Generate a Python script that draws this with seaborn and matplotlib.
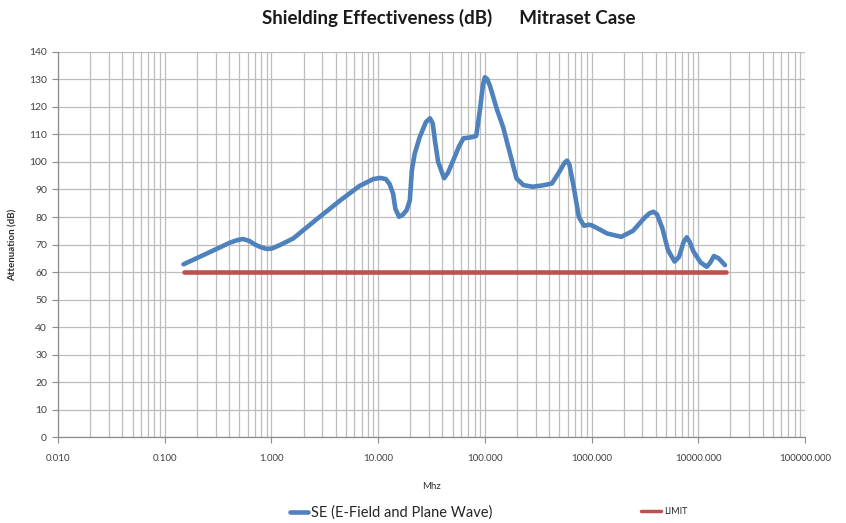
import numpy as np
import pandas as pd
import seaborn as sns
import matplotlib
matplotlib.use("Agg")
import matplotlib.pyplot as plt
from matplotlib.ticker import LogLocator, FuncFormatter, NullFormatter, MultipleLocator
from matplotlib.lines import Line2D

# ---- data ----
freq_mhz = [0.15, 0.25, 0.41, 0.48, 0.54, 0.62, 0.70, 0.80, 0.90, 1.0, 1.2, 1.6, 2.6, 4.4, 6.7, 9.0, 10.5,
            11.8, 12.8, 13.8, 14.5, 15.7, 17.0, 18.5, 19.8, 20.7, 22.0, 24.5, 28.0, 30.6, 32.5, 34, 36.5, 41.5,
            45.0, 50.7, 57.0, 63, 75, 83, 90, 96, 100, 105, 112, 130, 148, 175, 198, 230, 280, 350, 425,
            500, 560, 590, 620, 680, 760, 850, 940, 1000, 1150, 1400, 1900, 2450, 3100, 3500, 3800, 4100,
            4600, 5200, 6000, 6600, 7300, 7800, 8300, 9000, 10500, 12000, 13000, 14000, 15500, 17800]
se_db = [62.8, 66.8, 70.7, 71.6, 72.0, 71.3, 70.0, 69.0, 68.4, 68.5, 69.8, 72.2, 78.9, 86.0, 91.3, 93.8, 94.2,
         93.8, 92.0, 88.5, 83.0, 80.1, 80.8, 82.5, 86.0, 97.0, 103.0, 109.0, 114.5, 115.9, 114.0, 108.0, 100.0, 94.1,
         96.0, 100.7, 105.5, 108.6, 109.0, 109.5, 119.0, 128.0, 130.8, 130.2, 127.5, 119.0, 112.8, 102.0, 94.0, 91.6, 91.0, 91.5, 92.2,
         96.5, 99.8, 100.5, 99.0, 91.0, 80.0, 76.8, 77.2, 77.0, 75.8, 74.0, 72.8, 75.0, 79.5, 81.4, 81.9, 81.0,
         76.0, 68.0, 63.8, 65.5, 71.0, 72.6, 71.0, 67.5, 63.5, 61.9, 63.5, 65.8, 65.0, 62.5]
limit_freq = [0.15, 18000]
limit_db = [60, 60]

x_ticks = [0.01, 0.1, 1, 10, 100, 1000, 10000, 100000]

sns.set_theme(style="white")
plt.rcParams['font.family'] = ['Lato', 'DejaVu Sans']

fig = plt.figure(figsize=(8.46, 5.23), dpi=100)
ax = fig.add_axes([0.0686, 0.1644, 0.8829, 0.7362])
ax.set_xscale("log")

df_se = pd.DataFrame({"freq": freq_mhz, "val": se_db})
df_lim = pd.DataFrame({"freq": limit_freq, "val": limit_db})

blue = "#4F81BD"
red = "#C0504D"
sns.lineplot(data=df_se, x="freq", y="val", ax=ax, color=blue, lw=3.3,
             sort=False, estimator=None, solid_capstyle="round", solid_joinstyle="round", zorder=3)
sns.lineplot(data=df_lim, x="freq", y="val", ax=ax, color=red, lw=3.3,
             sort=False, estimator=None, solid_capstyle="round", zorder=3)

ax.set_xlim(0.01, 100000)
ax.set_ylim(0, 140)
ax.xaxis.set_minor_locator(LogLocator(base=10, subs=np.arange(2, 10), numticks=100))
ax.set_xticks(x_ticks)
ax.xaxis.set_major_formatter(FuncFormatter(lambda v, p: f"{v:.3f}"))
ax.xaxis.set_minor_formatter(NullFormatter())
ax.yaxis.set_major_locator(MultipleLocator(10))

gc = "#BDBDBD"
ax.grid(which="both", axis="x", color=gc, lw=0.9)
ax.grid(which="major", axis="y", color=gc, lw=0.9)
ax.set_axisbelow(True)
for s in ["top", "right"]:
    ax.spines[s].set_visible(False)
for s in ["left", "bottom"]:
    ax.spines[s].set_color("#8C8C8C")
    ax.spines[s].set_linewidth(0.9)

ax.tick_params(axis="x", which="both", direction="out", length=4, width=0.8,
               color="#8C8C8C", labelsize=7, labelcolor="#404040", pad=8)
ax.tick_params(axis="y", which="major", direction="out", length=4, width=0.8,
               color="#8C8C8C", labelsize=7.5, labelcolor="#404040", pad=4)
ax.tick_params(axis="both", bottom=True, left=True)

ax.set_xlabel("Mhz", fontsize=7, color="#303030", labelpad=14)
ax.set_ylabel("Attenuation (dB)", fontsize=7, color="#303030", fontweight="bold", labelpad=8)

fig.text(0.53, 0.965, "Shielding Effectiveness (dB)      Mitraset Case",
         ha="center", va="center", fontsize=13.5, fontweight="bold", color="#1a1a1a")

h1 = Line2D([], [], color=blue, lw=3.3)
h2 = Line2D([], [], color=red, lw=2.5)
leg1 = fig.legend(handles=[h1], labels=["SE (E-Field and Plane Wave)"], loc="center left",
                  bbox_to_anchor=(0.336, 0.020), frameon=False, fontsize=10.5,
                  handlelength=1.2, handletextpad=0.25, borderaxespad=0)
leg2 = fig.legend(handles=[h2], labels=["LIMIT"], loc="center left",
                  bbox_to_anchor=(0.754, 0.022), frameon=False, fontsize=6.5,
                  handlelength=2.2, handletextpad=0.3, borderaxespad=0)

fig.savefig("out.png", dpi=100)
